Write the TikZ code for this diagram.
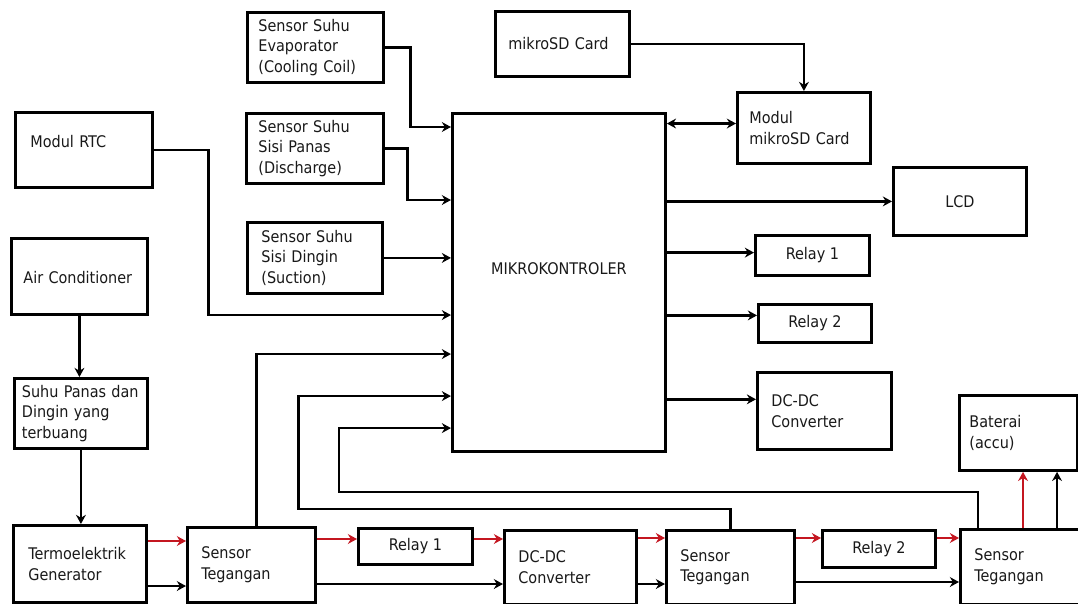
\documentclass[tikz,border=0pt]{standalone}
\usepackage{fontspec}
\setmainfont{DejaVu Sans Condensed}
\usetikzlibrary{arrows.meta}
\definecolor{merah}{RGB}{196,22,32}
\newcommand{\teks}{\fontsize{11.4}{14.6}\selectfont}
\begin{document}
\begin{tikzpicture}[
    x=0.025cm, y=-0.025cm,
    blok/.style={rectangle, draw, line width=2pt, anchor=north west, inner sep=0pt, align=left, font=\teks, text=black!90},
    pusat/.style={blok, align=center},
    panah/.style={-{Stealth[length=6.5pt,width=7pt]}, line width=2pt},
    panahmerah/.style={panah, draw=merah}
]
    \path[use as bounding box, fill=white] (0,0) rectangle (1078,604);

    % sensor suhu dan modul di kiri atas
    \node[blok, minimum width=3.4cm, minimum height=1.75cm, text width=2.85cm] (evap) at (246,11) {Sensor Suhu\\Evaporator\\(Cooling Coil)};
    \node[blok, minimum width=3.425cm, minimum height=1.75cm, text width=2.825cm] (panas) at (245,112) {Sensor Suhu\\Sisi Panas\\(Discharge)};
    \node[blok, minimum width=3.375cm, minimum height=1.775cm, text width=2.675cm] (dingin) at (246,221) {Sensor Suhu\\Sisi Dingin\\(Suction)};
    \node[blok, minimum width=3.425cm, minimum height=1.875cm, text width=2.675cm] (rtc) at (14,111) {\raisebox{0.45cm}{Modul RTC}};
    \node[blok, minimum width=3.4cm, minimum height=1.9cm, text width=2.8cm] (ac) at (10,237) {\raisebox{-0.35cm}{Air Conditioner}};
    \node[blok, minimum width=3.325cm, minimum height=1.75cm, text width=2.95cm] (suhu) at (13,377) {Suhu Panas dan\\Dingin yang\\terbuang};

    % mikrokontroler dan keluarannya
    \node[pusat, minimum width=5.325cm, minimum height=8.45cm] (mcu) at (451,112) {\raisebox{0.7cm}{MIKROKONTROLER}};
    \node[blok, minimum width=3.35cm, minimum height=1.625cm, text width=2.7cm] (sdcard) at (494,10) {mikroSD Card};
    \node[blok, minimum width=3.325cm, minimum height=1.775cm, text width=2.725cm] (sdmod) at (736,91) {Modul\\mikroSD Card};
    \node[pusat, minimum width=3.325cm, minimum height=1.7cm] (lcd) at (892,166) {LCD};
    \node[pusat, minimum width=2.85cm, minimum height=1cm] (relaya) at (754,234) {Relay 1};
    \node[pusat, minimum width=2.825cm, minimum height=0.95cm] (relayb) at (757,303) {Relay 2};
    \node[blok, minimum width=3.35cm, minimum height=1.925cm, text width=2.65cm] (dcdc) at (756,371) {DC-DC\\Converter};
    \node[blok, minimum width=2.95cm, minimum height=1.875cm, text width=2.45cm] (baterai) at (958,394) {Baterai\\(accu)};

    % jalur daya di bawah
    \node[blok, minimum width=3.325cm, minimum height=1.925cm, text width=2.575cm] (teg) at (12,524) {Termoelektrik\\Generator};
    \node[blok, minimum width=3.2cm, minimum height=1.875cm, text width=2.5cm] (tegA) at (186,526) {Sensor\\Tegangan};
    \node[pusat, minimum width=2.85cm, minimum height=0.9cm] (relayA) at (357,527) {Relay 1};
    \node[blok, minimum width=3.3cm, minimum height=1.85cm, text width=2.6cm] (dcdcA) at (503,529) {DC-DC\\Converter};
    \node[blok, minimum width=3.2cm, minimum height=1.85cm, text width=2.5cm] (tegB) at (665,529) {Sensor\\Tegangan};
    \node[pusat, minimum width=2.825cm, minimum height=0.925cm] (relayB) at (821,529) {Relay 2};
    \node[blok, minimum width=3.025cm, minimum height=1.875cm, text width=2.325cm] (tegC) at (959,528) {Sensor\\Tegangan};

    % masukan ke mikrokontroler
    \draw[panah] (evap.east) -- ++(26,0) |- ([yshift=-0.375cm]mcu.north west);
    \draw[panah] (panas.east) -- ++(23,0) |- ([yshift=-2.2cm]mcu.north west);
    \draw[panah] (dingin.east) -- (dingin.east -| mcu.west);
    \draw[panah] (rtc.east) -- ++(55,0) |- ([yshift=-5.075cm]mcu.north west);
    \draw[panah] ([xshift=0.125cm]tegA.north) |- ([yshift=-6.05cm]mcu.north west);
    \draw[panah] (tegB.north) -- ++(0,-20) -- ++(-432,0) |- ([yshift=-7.1cm]mcu.north west);
    \draw[panah] ([xshift=0.475cm]tegC.north west) -- ++(0,-36) -- ++(-639,0) |- ([yshift=-7.9cm]mcu.north west);

    % keluaran mikrokontroler
    \draw[panah] (sdcard.east) -| (sdmod.north);
    \draw[{Stealth[length=6.5pt,width=7pt]}-{Stealth[length=6.5pt,width=7pt]}, line width=2pt] ([yshift=0.11cm]sdmod.west -| mcu.east) -- ([yshift=0.11cm]sdmod.west);
    \draw[panah] (lcd.west -| mcu.east) -- (lcd.west);
    \draw[panah] ([yshift=0.07cm]relaya.west -| mcu.east) -- ([yshift=0.07cm]relaya.west);
    \draw[panah] ([yshift=0.2cm]relayb.west -| mcu.east) -- ([yshift=0.2cm]relayb.west);
    \draw[panah] ([yshift=0.29cm]dcdc.west -| mcu.east) -- ([yshift=0.29cm]dcdc.west);

    % aliran panas
    \draw[panah] (ac.south) -- (ac.south |- suhu.north);
    \draw[panah] (suhu.south) -- (suhu.south |- teg.north);

    % jalur merah
    \draw[panahmerah] ([yshift=-0.425cm]teg.north east) -- ([yshift=-0.425cm]teg.north east -| tegA.west);
    \draw[panahmerah] ([yshift=-0.325cm]tegA.north east) -- ([yshift=-0.325cm]tegA.north east -| relayA.west);
    \draw[panahmerah] ([yshift=-0.3cm]relayA.north east) -- ([yshift=-0.3cm]relayA.north east -| dcdcA.west);
    \draw[panahmerah] ([yshift=-0.225cm]dcdcA.north east) -- ([yshift=-0.225cm]dcdcA.north east -| tegB.west);
    \draw[panahmerah] ([yshift=-0.225cm]tegB.north east) -- ([yshift=-0.225cm]tegB.north east -| relayB.west);
    \draw[panahmerah] ([yshift=-0.225cm]relayB.north east) -- ([yshift=-0.225cm]relayB.north east -| tegC.west);
    \draw[panahmerah] ([xshift=1.6cm]tegC.north west) -- ([xshift=1.6cm]tegC.north west |- baterai.south);

    % jalur hitam
    \draw[panah] ([yshift=-1.55cm]teg.north east) -- ([yshift=-1.55cm]teg.north east -| tegA.west);
    \draw[panah] ([yshift=-1.45cm]tegA.north east) -- ([yshift=-1.45cm]tegA.north east -| dcdcA.west);
    \draw[panah] ([yshift=-1.375cm]dcdcA.north east) -- ([yshift=-1.375cm]dcdcA.north east -| tegB.west);
    \draw[panah] ([yshift=-1.325cm]tegB.north east) -- ([yshift=-1.325cm]tegB.north east -| tegC.west);
    \draw[panah] ([xshift=2.45cm]tegC.north west) -- ([xshift=2.45cm]tegC.north west |- baterai.south);
\end{tikzpicture}
\end{document}
